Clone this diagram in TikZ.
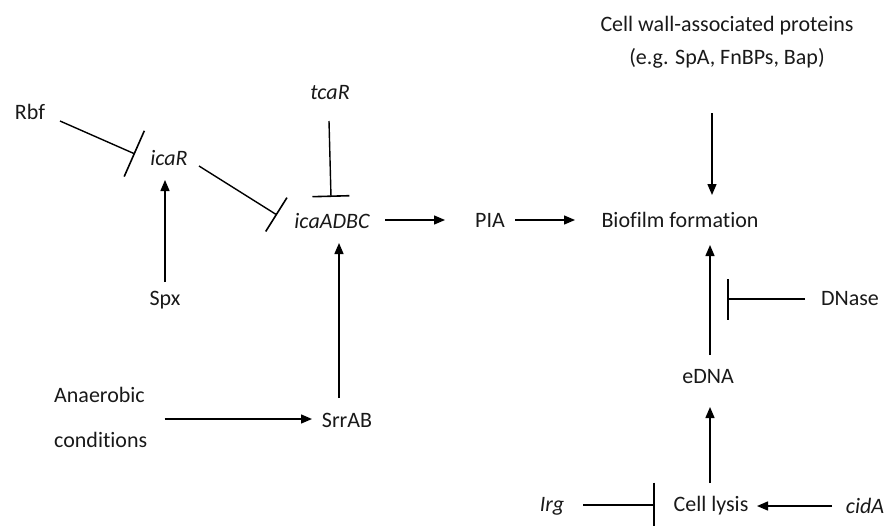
\documentclass[tikz,border=0pt]{standalone}
\usepackage{fontspec}
\setmainfont{Carlito}[Ligatures=NoCommon]
\usetikzlibrary{arrows.meta}
\tikzset{
  lbl/.style={inner sep=0pt, text=black!90, font=\fontsize{22}{26}\selectfont},
  act/.style={line width=1.4pt, -{Triangle[length=11pt,width=9pt]}},
  inh/.style={line width=1.4pt, -{Bar[width=#1,line width=1.6pt]}},
}
\begin{document}
\begin{tikzpicture}[x=1pt,y=-1pt]
\useasboundingbox (0,0) rectangle (888,525);
% nodes
\node[lbl] (Rbf) at (30,112) {Rbf};
\node[lbl] (icaR) at (169,158) {\itshape icaR};
\node[lbl] (tcaR) at (330,93) {\itshape tcaR};
\node[lbl] (ica) at (332,221) {\itshape icaADBC};
\node[lbl] (PIA) at (490,220) {PIA};
\node[lbl] (bio) at (680,220) {Biofilm formation};
\node[lbl, align=center, font=\fontsize{22}{33}\selectfont] (cw) at (727,42) {Cell wall-associated proteins\\(e.g. SpA, FnBPs, Bap)};
\node[lbl] (Spx) at (165,300) {Spx};
\node[lbl] (SrrAB) at (347,420) {SrrAB};
\node[lbl, align=left, anchor=west, font=\fontsize{22}{45}\selectfont] (anaer) at (54,417) {Anaerobic\\conditions};
\node[lbl] (eDNA) at (708,377) {eDNA};
\node[lbl] (DNase) at (850,299) {DNase};
\node[lbl] (lysis) at (711,506) {Cell lysis};
\node[lbl] (Irg) at (552,506) {\itshape Irg};
\node[lbl] (cidA) at (865,506) {\itshape cidA};
% connectors
\draw[inh=50pt] ([shift={(30,9)}]Rbf.center) -- ([shift={(-34,-4)}]icaR.center);
\draw[inh=40pt] ([shift={(30,8)}]icaR.center) -- ([shift={(-55,-6)}]ica.center);
\draw[inh=37pt] ([shift={(-1,28)}]tcaR.center) -- ([shift={(-1,-24)}]ica.center);
\draw[act] ([shift={(53,-1)}]ica.center) -- ([shift={(-45,0)}]PIA.center);
\draw[act] ([shift={(25,0)}]PIA.center) -- ([shift={(-105,0)}]bio.center);
\draw[act] ([shift={(-15,71)}]cw.center) -- ([shift={(32,-25)}]bio.center);
\draw[act] ([shift={(2,-22)}]eDNA.center) -- ([shift={(30,25)}]bio.center);
\draw[inh=41pt] ([shift={(-45,0)}]DNase.center) -- ([shift={(47,79)}]bio.center);
\draw[act] ([shift={(-1,-23)}]lysis.center) -- ([shift={(2,30)}]eDNA.center);
\draw[inh=45pt] ([shift={(31,-1)}]Irg.center) -- ([shift={(-56,-1)}]lysis.center);
\draw[act] ([shift={(-33,0)}]cidA.center) -- ([shift={(46,0)}]lysis.center);
\draw[act] ([shift={(0,-18)}]Spx.center) -- ([shift={(-4,22)}]icaR.center);
\draw[act] ([shift={(64,2)}]anaer.center) -- ([shift={(-35,-1)}]SrrAB.center);
\draw[act] ([shift={(-8,-22)}]SrrAB.center) -- ([shift={(7,22)}]ica.center);
\end{tikzpicture}
\end{document}
